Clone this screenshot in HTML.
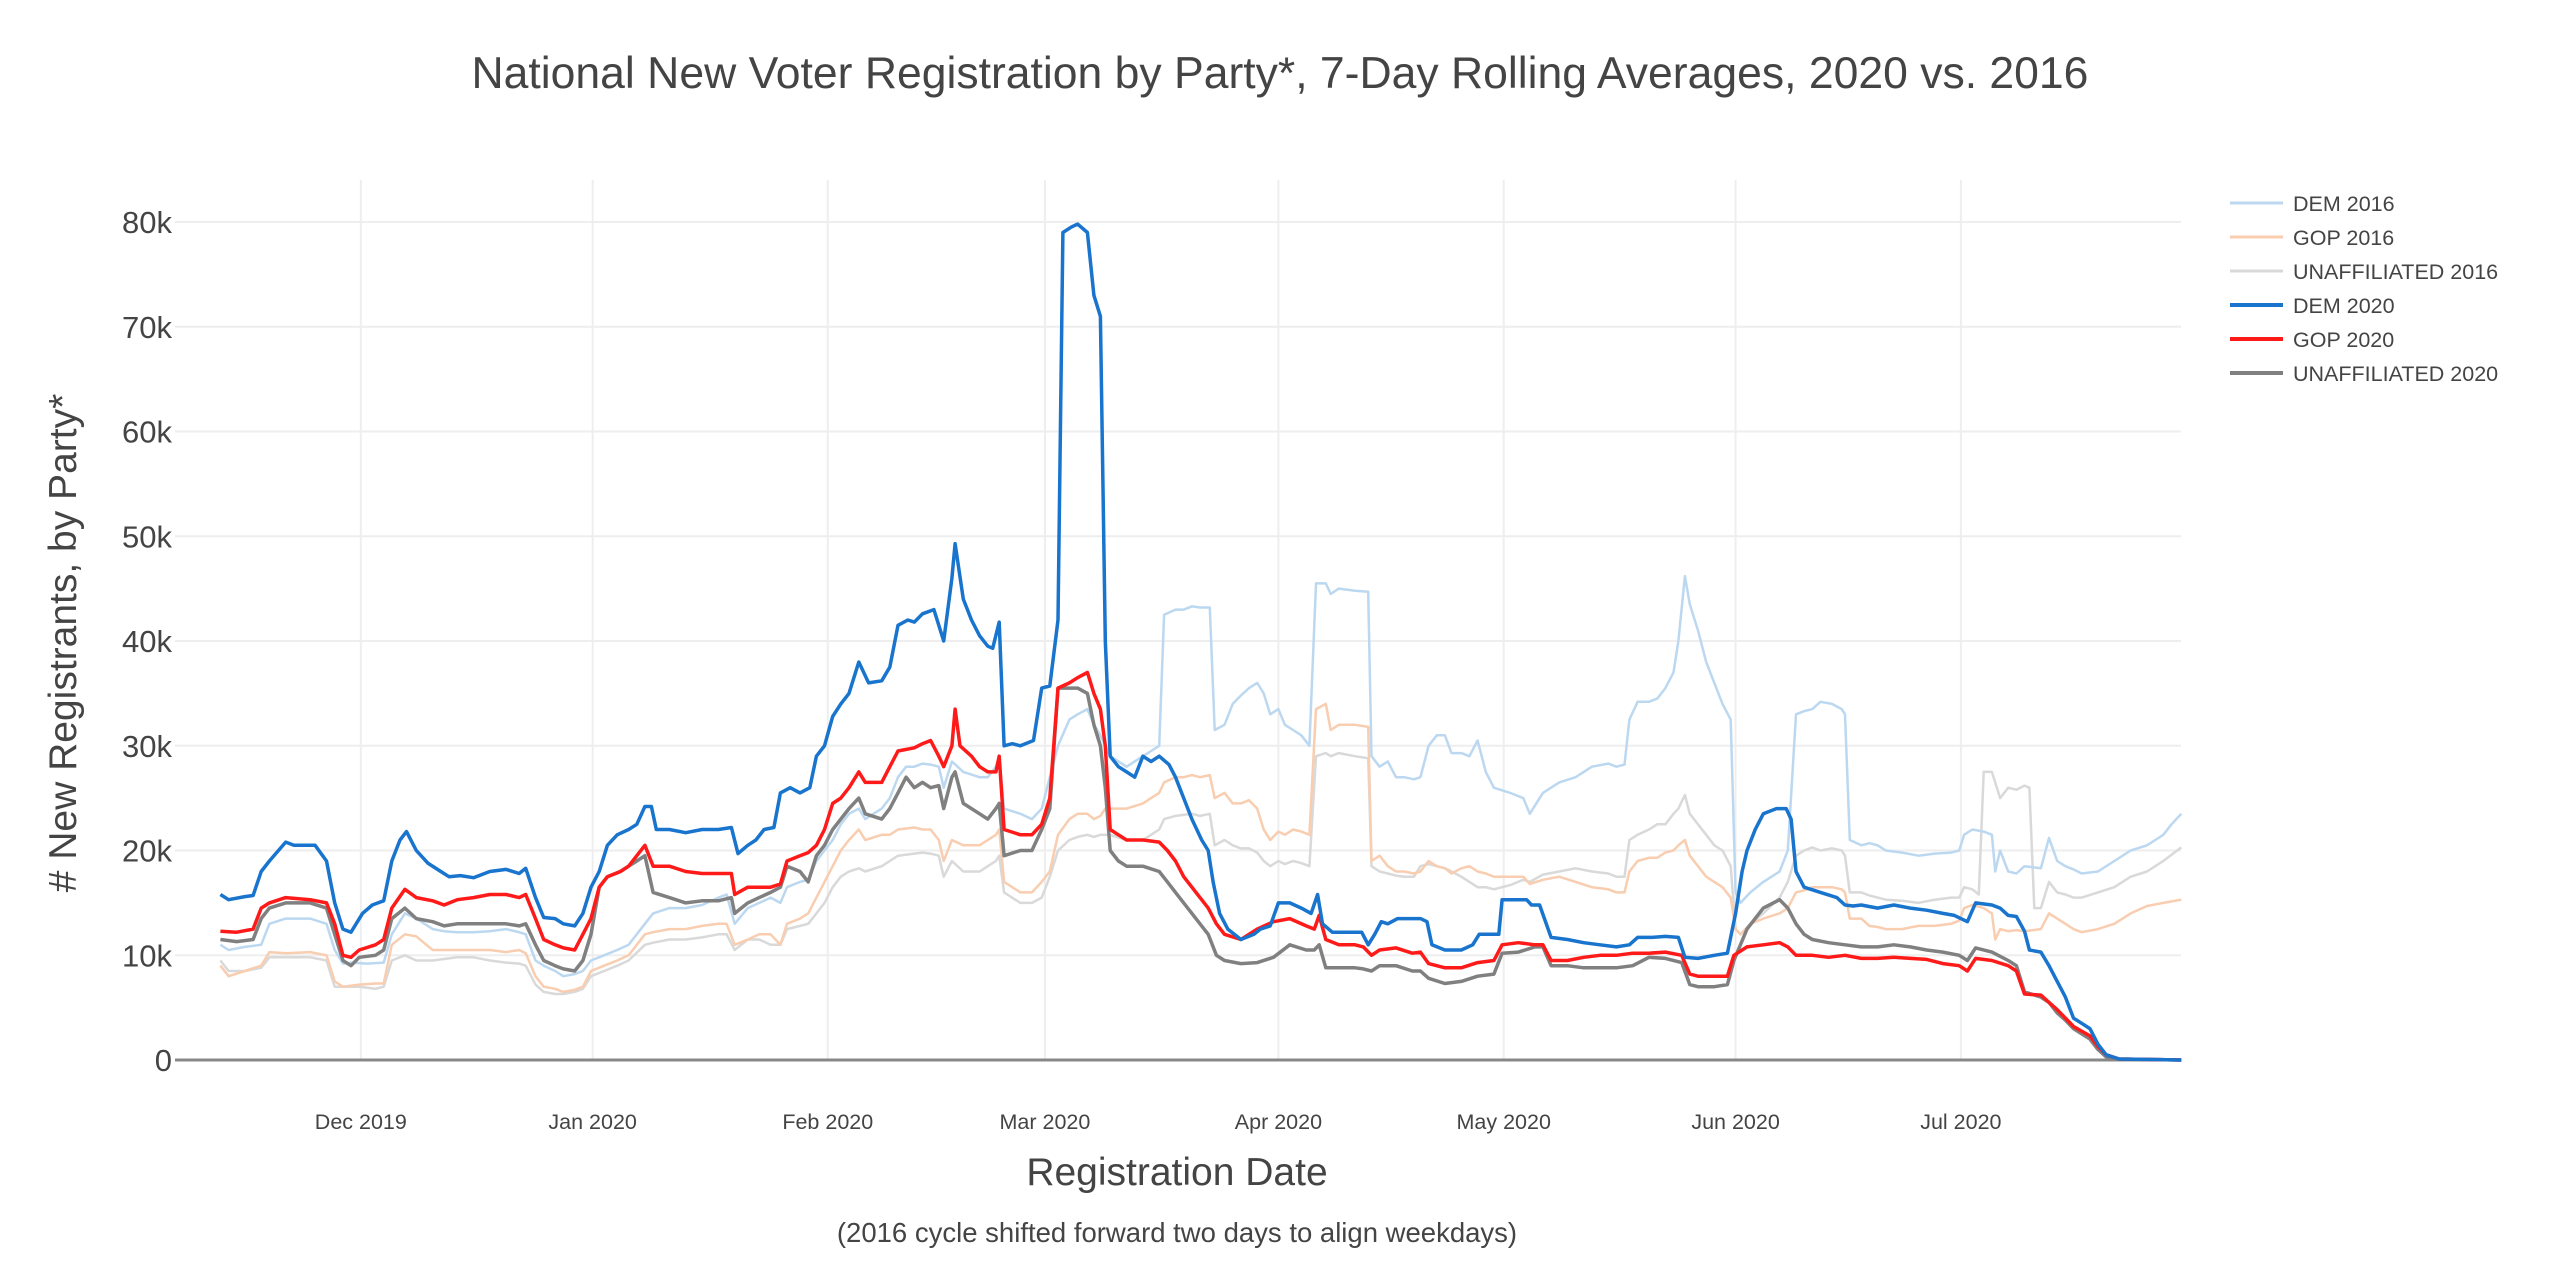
<!DOCTYPE html>
<html><head><meta charset="utf-8"><style>
html,body{margin:0;padding:0;background:#fff;}
svg{display:block;font-family:"Liberation Sans",sans-serif;}
</style></head><body>
<svg id="s" width="2560" height="1280" viewBox="0 0 2560 1280" xmlns="http://www.w3.org/2000/svg">
<rect width="2560" height="1280" fill="#fff"/>
<g id="grid"></g>
<g id="lines" fill="none" stroke-linejoin="round"></g>
<text x="1280" y="88" text-anchor="middle" font-size="44.5" fill="#444">National New Voter Registration by Party*, 7-Day Rolling Averages, 2020 vs. 2016</text>
<text transform="translate(76,643) rotate(-90)" text-anchor="middle" font-size="39" fill="#444"># New Registrants, by Party*</text>
<text x="1177" y="1185" text-anchor="middle" font-size="39" fill="#444">Registration Date</text>
<text x="1177" y="1242" text-anchor="middle" font-size="27.5" fill="#444">(2016 cycle shifted forward two days to align weekdays)</text>
<g id="legend" font-size="21.5" fill="#444">
<line x1="2230" y1="203" x2="2283" y2="203" stroke="#bcd8f0" stroke-width="3"/><text x="2293" y="211">DEM 2016</text>
<line x1="2230" y1="237" x2="2283" y2="237" stroke="#f8cdb0" stroke-width="3"/><text x="2293" y="245">GOP 2016</text>
<line x1="2230" y1="271" x2="2283" y2="271" stroke="#d9d9d9" stroke-width="3"/><text x="2293" y="279">UNAFFILIATED 2016</text>
<line x1="2230" y1="305" x2="2283" y2="305" stroke="#1874cd" stroke-width="4"/><text x="2293" y="313">DEM 2020</text>
<line x1="2230" y1="339" x2="2283" y2="339" stroke="#ff1a1a" stroke-width="4"/><text x="2293" y="347">GOP 2020</text>
<line x1="2230" y1="373" x2="2283" y2="373" stroke="#808080" stroke-width="4"/><text x="2293" y="381">UNAFFILIATED 2020</text>
</g>
</svg>
<script>
var S=1.6327,NS="http://www.w3.org/2000/svg";
function X(d){return d*S;} function Y(v){return 1060-v*10.475;}
function el(p,t,a,txt){var e=document.createElementNS(NS,t);for(var k in a)e.setAttribute(k,a[k]);if(txt)e.textContent=txt;p.appendChild(e);return e;}
var g=document.getElementById('grid');
for(var k=10;k<=80;k+=10){el(g,'line',{x1:175,x2:2181,y1:Y(k),y2:Y(k),stroke:'#eeeeee','stroke-width':2});}
for(var k=0;k<=80;k+=10){el(g,'text',{x:172,y:Y(k)+11,'text-anchor':'end','font-size':31,fill:'#444'},k?k+'k':'0');}
var tk=[[221,'Dec 2019'],[363,'Jan 2020'],[507,'Feb 2020'],[640,'Mar 2020'],[783,'Apr 2020'],[921,'May 2020'],[1063,'Jun 2020'],[1201,'Jul 2020']];
tk.forEach(function(t){var x=X(t[0]);el(g,'line',{x1:x,x2:x,y1:180,y2:1060,stroke:'#eeeeee','stroke-width':2});el(g,'text',{x:x,y:1129,'text-anchor':'middle','font-size':21.5,fill:'#444'},t[1]);});
el(g,'line',{x1:175,x2:2181,y1:1060,y2:1060,stroke:'#888','stroke-width':3});
var D={
u16:"135,9.5;140,8.5;150,8.5;160,8.8;165,9.8;175,9.8;190,9.8;200,9.5;205,7;210,7;220,7;230,6.8;235,7;240,9.5;248,10;255,9.5;265,9.5;280,9.8;290,9.8;300,9.5;310,9.3;318,9.2;322,9;328,7.2;333,6.5;340,6.3;345,6.3;352,6.5;357,6.8;362,8;370,8.5;378,9;385,9.5;395,11;400,11.2;410,11.5;420,11.5;430,11.7;440,12;445,12;450,10.5;458,11.5;465,11.5;472,11;478,11;482,12.5;490,12.8;495,13;500,14;505,15;510,16.5;515,17.5;520,18;526,18.3;530,18;540,18.5;545,19;550,19.5;560,19.7;565,19.8;570,19.7;575,19.5;578,17.5;583,19;590,18;600,18;605,18.5;610,19;612,19.5;615,16;625,15;632,15;638,15.5;643,17.5;648,20;655,21;660,21.3;666,21.5;670,21.3;674,21.5;677,21.5;680,21.5;690,21;700,21;705,21.5;710,22;713,23;720,23.3;725,23.4;730,23.5;735,23.3;741,23.5;744,20.5;750,21;755,20.5;760,20.2;765,20.2;770,19.8;774,19;778,18.5;783,19;787,18.7;792,19;797,18.8;802,18.5;806,29;812,29.3;815,29;820,29.3;830,29;838,28.8;840,18.5;845,18;850,17.8;855,17.6;860,17.5;866,17.5;870,18.5;875,18.7;880,18.5;885,18.3;889,18;895,17.5;900,17;905,16.5;910,16.5;915,16.3;925,16.7;933,17.2;937,17;945,17.7;955,18;965,18.3;975,18;985,17.8;990,17.5;995,17.5;998,21;1003,21.5;1010,22;1015,22.5;1020,22.5;1025,23.5;1028,24;1032,25.3;1035,23.5;1040,22.5;1045,21.5;1050,20.5;1055,20;1060,18.5;1063,12.5;1066,12;1072,13;1080,14;1090,15.5;1095,17;1100,19.5;1105,20;1110,20.3;1115,20;1122,20.2;1128,20;1130,19.5;1133,16;1140,16;1145,15.7;1150,15.5;1155,15.3;1165,15.2;1175,15;1185,15.3;1195,15.5;1200,15.5;1203,16.5;1208,16.3;1212,15.8;1215,27.5;1220,27.5;1225,25;1230,26;1235,25.8;1240,26.2;1243,26;1246,14.5;1250,14.5;1255,17;1260,16;1265,15.8;1270,15.5;1275,15.5;1285,16;1295,16.5;1305,17.5;1315,18;1325,19;1336,20.3",
g16:"135,9;140,8;150,8.5;160,9;165,10.3;175,10.2;190,10.3;200,10;205,7.5;210,7;220,7.2;230,7.3;235,7.3;240,11;248,12;255,11.8;265,10.5;280,10.5;290,10.5;300,10.5;310,10.3;318,10.5;322,10.2;328,8;333,7;340,6.8;345,6.5;352,6.7;357,7;362,8.5;370,9;378,9.5;385,10;395,12;400,12.2;410,12.5;420,12.5;430,12.8;440,13;445,13;450,11;458,11.5;465,12;472,12;478,11;482,13;490,13.5;495,14;500,15.5;505,17;510,18.5;515,20;520,21;526,22;530,21;540,21.5;545,21.5;550,22;560,22.2;565,22;570,22;575,21;578,19;583,21;590,20.5;600,20.5;605,21;610,21.5;612,22;615,17;625,16;632,16;638,17;643,18;648,21.5;655,23;660,23.5;666,23.5;670,23;674,23.3;677,24;680,24;690,24;700,24.5;705,25;710,25.5;713,26.5;720,27;725,27;730,27.2;735,27;741,27.2;744,25;750,25.5;755,24.5;760,24.5;765,24.8;770,24;774,22;778,21;783,21.8;787,21.5;792,22;797,21.8;802,21.5;806,33.5;812,34;815,31.5;820,32;830,32;838,31.8;840,19;845,19.5;850,18.5;855,18;860,18;866,17.8;870,18;875,19;880,18.5;885,18.3;889,17.8;895,18.3;900,18.5;905,18;910,17.8;915,17.5;925,17.5;933,17.5;937,16.8;945,17.2;955,17.5;965,17;975,16.5;985,16.3;990,16;995,16;998,18;1003,19;1010,19.3;1015,19.3;1020,19.8;1025,20;1028,20.5;1032,21;1035,19.5;1040,18.5;1045,17.5;1050,17;1055,16.5;1060,15.5;1063,12.5;1066,12;1072,13;1080,13.5;1090,14;1095,14.5;1100,16;1105,16.2;1110,16.5;1115,16.5;1122,16.5;1128,16.3;1130,16;1133,13.5;1140,13.5;1145,12.8;1150,12.7;1155,12.5;1165,12.5;1175,12.8;1185,12.8;1195,13;1200,13.3;1203,14.5;1208,14.8;1215,14.5;1220,14;1222,11.5;1225,12.5;1230,12.3;1235,12.4;1240,12.3;1250,12.5;1255,14;1260,13.5;1265,13;1270,12.5;1275,12.2;1285,12.5;1295,13;1305,14;1315,14.7;1325,15;1336,15.3",
d16:"135,11;140,10.5;150,10.8;160,11;165,13;175,13.5;190,13.5;200,13;205,10.5;210,9.2;215,9.3;225,9.2;235,9.3;240,12;248,14;255,13.5;265,12.5;272,12.3;280,12.2;290,12.2;300,12.3;310,12.5;318,12.2;322,12;328,9.5;333,9;340,8.5;345,8;352,8.2;357,8.5;362,9.5;370,10;378,10.5;385,11;395,13;400,14;410,14.5;420,14.5;430,14.8;440,15.5;445,15.8;450,13;458,14.5;465,15;472,15.5;478,15;482,16.5;490,17;495,17.2;500,19;505,20;510,21;515,22.5;520,23.5;526,24;530,23;540,24;545,25;550,27;555,28;560,28;565,28.3;570,28.2;575,28;578,26;583,28.5;590,27.5;600,27;605,27;610,28;612,29;615,24;625,23.5;632,23;638,24;643,27;648,30;655,32.5;660,33;666,33.5;670,32;674,31;677,30;680,29;690,28;700,29;705,29.5;710,30;713,42.5;720,43;725,43;730,43.3;735,43.2;741,43.2;744,31.5;750,32;755,34;760,34.8;765,35.5;770,36;774,35;778,33;783,33.5;787,32;792,31.5;797,31;802,30;806,45.5;812,45.5;815,44.5;820,45;830,44.8;838,44.7;840,29;845,28;850,28.5;855,27;860,27;866,26.8;870,27;875,30;880,31;885,31;889,29.3;895,29.3;900,29;905,30.5;910,27.5;915,26;925,25.5;933,25;937,23.5;945,25.5;955,26.5;965,27;975,28;985,28.3;990,28;995,28.2;998,32.5;1003,34.2;1010,34.2;1015,34.5;1020,35.5;1025,37;1028,40;1032,46.2;1035,43.5;1040,41;1045,38;1050,36;1055,34;1060,32.5;1063,16;1066,15;1072,16;1080,17;1090,18;1095,20;1100,33;1105,33.3;1110,33.5;1115,34.2;1122,34;1128,33.5;1130,33;1133,21;1140,20.5;1145,20.7;1150,20.5;1155,20;1165,19.8;1175,19.5;1185,19.7;1195,19.8;1200,20;1203,21.5;1208,22;1215,21.8;1220,21.5;1222,18;1225,20;1230,18;1235,17.8;1240,18.5;1250,18.3;1255,21.2;1260,19;1265,18.5;1270,18.2;1275,17.8;1285,18;1295,19;1305,20;1315,20.5;1325,21.5;1330,22.5;1336,23.5",
u20:"135,11.5;145,11.3;155,11.5;160,13.5;165,14.5;175,15;190,15;200,14.5;205,12;210,9.5;215,9;220,9.8;230,10;235,10.5;240,13.5;248,14.5;255,13.5;265,13.2;272,12.8;280,13;290,13;300,13;310,13;318,12.8;322,13;328,11;333,9.5;340,9;345,8.7;352,8.5;357,9.5;362,12;367,16.5;372,17.5;380,18;385,18.5;390,19;395,19.5;400,16;410,15.5;420,15;430,15.2;440,15.2;448,15.5;450,14;458,15;465,15.5;472,16;478,16.5;482,18.5;490,18;495,17;500,19.5;505,20.5;510,22;515,23;520,24;526,25;530,23.5;540,23;545,24;550,25.5;555,27;560,26;565,26.5;570,26;575,26.2;578,24;583,27;585,27.5;590,24.5;600,23.5;605,23;610,24;612,24.5;615,19.5;625,20;632,20;638,22;643,24;648,35.5;655,35.5;660,35.5;666,35;670,32;674,30;677,26;680,20;685,19;690,18.5;700,18.5;710,18;715,17;720,16;725,15;730,14;735,13;740,12;745,10;750,9.5;760,9.2;770,9.3;780,9.8;790,11;800,10.5;805,10.5;808,11;812,8.8;820,8.8;830,8.8;835,8.7;840,8.5;845,9;855,9;865,8.5;870,8.5;875,7.8;885,7.3;895,7.5;905,8;915,8.2;920,10.2;930,10.3;940,10.8;945,10.8;950,9;960,9;970,8.8;980,8.8;990,8.8;1000,9;1010,9.8;1020,9.7;1030,9.3;1035,7.2;1040,7;1050,7;1058,7.2;1062,9.5;1070,12.5;1080,14.5;1090,15.3;1095,14.5;1100,13;1105,12;1110,11.5;1120,11.2;1130,11;1140,10.8;1150,10.8;1160,11;1170,10.8;1180,10.5;1190,10.3;1200,10;1205,9.5;1210,10.7;1220,10.3;1230,9.5;1235,9;1240,6.5;1250,6;1255,5.5;1260,4.5;1265,3.8;1270,3;1280,2;1285,1;1290,0.3;1298,0.1;1336,0",
g20:"135,12.3;145,12.2;155,12.5;160,14.5;165,15;175,15.5;190,15.3;200,15;205,13;210,10;215,9.8;220,10.5;230,11;235,11.5;240,14.5;248,16.3;255,15.5;265,15.2;272,14.8;280,15.3;290,15.5;300,15.8;310,15.8;318,15.5;322,15.8;328,13.5;333,11.5;340,11;345,10.7;352,10.5;357,12;362,13.5;367,16.5;372,17.5;380,18;385,18.5;390,19.5;395,20.5;400,18.5;410,18.5;420,18;430,17.8;440,17.8;448,17.8;450,15.8;458,16.5;465,16.5;472,16.5;478,16.8;482,19;490,19.5;495,19.8;500,20.5;505,22;510,24.5;515,25;520,26;526,27.5;530,26.5;540,26.5;545,28;550,29.5;560,29.8;565,30.2;570,30.5;575,29;578,28;583,30;585,33.5;588,30;595,29;600,28;605,27.5;610,27.5;612,29;615,22;625,21.5;632,21.5;638,22.5;643,25;648,35.5;655,36;660,36.5;666,37;670,35;674,33.5;677,30;680,22;685,21.5;690,21;700,21;710,20.8;715,20;720,19;725,17.5;730,16.5;735,15.5;740,14.5;745,13;750,12;760,11.5;770,12.5;780,13.2;790,13.5;800,12.8;805,12.5;808,13.8;812,11.5;820,11;830,11;835,10.8;840,10;845,10.5;855,10.7;865,10.2;870,10.3;875,9.2;885,8.8;895,8.8;905,9.3;915,9.5;920,11;930,11.2;940,11;945,11;950,9.5;960,9.5;970,9.8;980,10;990,10;1000,10.2;1010,10.2;1020,10.3;1030,10;1035,8.2;1040,8;1050,8;1058,8;1062,10;1070,10.8;1080,11;1090,11.2;1095,10.8;1100,10;1110,10;1120,9.8;1130,10;1140,9.7;1150,9.7;1160,9.8;1170,9.7;1180,9.6;1190,9.2;1200,9;1205,8.5;1210,9.7;1220,9.5;1230,9;1235,8.5;1240,6.3;1250,6.2;1255,5.5;1260,4.8;1265,4;1270,3.2;1280,2.3;1285,1.3;1290,0.5;1298,0.1;1336,0",
d20:"135,15.8;140,15.3;150,15.6;155,15.7;160,18;165,19;175,20.8;180,20.5;193,20.5;200,19;205,15;210,12.5;215,12.2;222,14;228,14.8;235,15.2;240,19;245,21;249,21.8;255,20;262,18.8;270,18;275,17.5;282,17.6;290,17.4;300,18;310,18.2;318,17.8;322,18.3;328,15.5;333,13.6;340,13.5;345,13;352,12.8;357,14;362,16.5;367,18;372,20.5;378,21.5;385,22;390,22.5;395,24.2;399,24.2;402,22;410,22;420,21.7;430,22;440,22;448,22.2;452,19.7;458,20.5;463,21;468,22;474,22.2;478,25.5;484,26;490,25.5;496,26;500,29;505,30;510,32.8;515,34;520,35;526,38;532,36;540,36.2;545,37.5;550,41.5;556,42;560,41.8;565,42.6;572,43;578,40;583,46;585,49.3;590,44;595,42;600,40.5;605,39.5;608,39.3;612,41.8;615,30;620,30.2;625,30;633,30.5;638,35.5;643,35.7;648,42;651,79;656,79.5;660,79.8;666,79;670,73;674,71;677,40;680,29;685,28;690,27.5;695,27;700,29;705,28.5;710,29;716,28.2;720,27;725,25;730,23;736,21;740,20;743,17;747,14;752,12.5;760,11.5;768,12;772,12.5;778,12.8;783,15;790,15;797,14.5;803,14;807,15.8;810,13;816,12.2;825,12.2;834,12.2;838,11;842,12;846,13.2;850,13;856,13.5;862,13.5;870,13.5;874,13.2;877,11;885,10.5;895,10.5;902,11;906,12;912,12;918,12;920,15.3;930,15.3;935,15.3;938,14.8;943,14.8;950,11.7;960,11.5;970,11.2;980,11;990,10.8;998,11;1003,11.7;1012,11.7;1020,11.8;1028,11.7;1032,9.8;1040,9.7;1050,10;1058,10.2;1063,14;1067,18;1070,20;1075,22;1080,23.5;1088,24;1094,24;1097,23;1100,18;1105,16.5;1115,16;1125,15.5;1130,14.8;1135,14.7;1140,14.8;1150,14.5;1160,14.8;1170,14.5;1180,14.3;1190,14;1197,13.8;1205,13.2;1210,15;1220,14.8;1225,14.5;1230,13.8;1235,13.7;1240,12.3;1243,10.5;1250,10.3;1255,9;1260,7.5;1265,6;1270,4;1275,3.5;1280,3;1285,1.5;1290,0.5;1298,0.1;1336,0"
};
var st=[['u16','#d9d9d9',2.5],['g16','#f8cdb0',2.5],['d16','#bcd8f0',2.5],['u20','#808080',3.5],['g20','#ff1a1a',3.5],['d20','#1874cd',3.5]];
var L=document.getElementById('lines');
st.forEach(function(s){var pts=D[s[0]].split(';').map(function(p){var a=p.split(',');return X(+a[0]).toFixed(1)+','+Y(+a[1]).toFixed(1);}).join(' ');
el(L,'polyline',{points:pts,stroke:s[1],'stroke-width':s[2]});});
</script>
</body></html>
